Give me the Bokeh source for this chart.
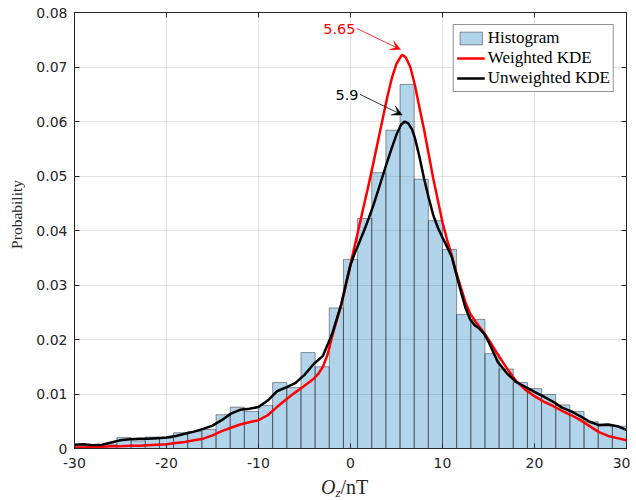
import numpy as np
from bokeh.plotting import figure
from bokeh.layouts import column, row
from bokeh.models import (LinearAxis, FixedTicker, Label, Arrow, VeeHead, Range1d, Grid, Div)
from bokeh.embed import file_html
from bokeh.resources import INLINE

# ---------------- data ----------------
x_ticks = [-30, -20, -10, 0, 10, 20, 30]
x_tick_labels = ["-30", "-20", "-10", "0", "10", "20", "30"]
y_ticks = [0, 0.01, 0.02, 0.03, 0.04, 0.05, 0.06, 0.07, 0.08]
y_tick_labels = ["0", "0.01", "0.02", "0.03", "0.04", "0.05", "0.06", "0.07", "0.08"]

hist_range = (-30, 30)
hist_bins = 39
hist_prob = [0.0007, 0.0005, 0.0008, 0.0020, 0.0014, 0.0021, 0.0019, 0.0029, 0.0031, 0.0035,
             0.0062, 0.0076, 0.0068, 0.0079, 0.0121, 0.0112, 0.0176, 0.0150, 0.0258,
             0.0347, 0.0422, 0.0506, 0.0584, 0.0668, 0.0494, 0.0418, 0.0365,
             0.0246, 0.0237, 0.0174, 0.0146, 0.0121, 0.0110, 0.0099, 0.0080, 0.0068,
             0.0049, 0.0041, 0.0041]

unw_x = [-30, -29, -28, -27, -26, -25, -24, -23, -22, -21, -20, -19, -18, -17, -16, -15,
         -14, -13, -12, -11, -10, -9, -8, -7, -6, -5, -4, -3, -2, -1,
         -0.5, 0, 0.5, 1, 1.5, 2, 2.5, 3, 3.5, 4, 4.5, 5, 5.5,
         5.9, 6.3, 6.7,
         7, 7.5, 8, 8.5, 9, 9.5, 10, 10.5, 11, 11.5, 12, 12.5, 13, 13.5, 14, 14.5,
         15, 16, 17, 18, 19, 20, 21, 22, 23, 24, 25, 26, 27, 28, 29, 30]
unw_y = [0.0007, 0.0008, 0.0006, 0.0007, 0.0011, 0.0015, 0.0017, 0.0018, 0.0018, 0.0019,
         0.0020, 0.0023, 0.0027, 0.0031, 0.0036, 0.0042, 0.0052, 0.0064, 0.0071, 0.0073,
         0.0076, 0.0088, 0.0105, 0.0112, 0.0120, 0.0135, 0.0155, 0.0170, 0.0210, 0.0265,
         0.0302, 0.0337, 0.0360, 0.0380, 0.0401, 0.0423, 0.0447, 0.0473, 0.0500, 0.0527,
         0.0552, 0.0576, 0.0594,
         0.0600, 0.0596, 0.0585,
         0.0570, 0.0535, 0.0495, 0.0460, 0.0428, 0.0405, 0.0387, 0.0370, 0.0352, 0.0320,
         0.0288, 0.0258, 0.0237, 0.0226, 0.0220, 0.0211,
         0.0196, 0.0159, 0.0138, 0.0122, 0.0113, 0.0104, 0.0095, 0.0086, 0.0075, 0.0068,
         0.0059, 0.0049, 0.0043, 0.0044, 0.0041, 0.0034]

w_x = [-30, -29, -28, -27, -26, -25, -24, -23, -22, -21, -20, -19, -18, -17, -16, -15,
       -14, -13, -12, -11, -10, -9, -8, -7, -6, -5, -4,
       -3.5, -3, -2.5, -2, -1.5, -1, -0.5, 0, 0.5, 1, 1.5, 2, 2.5, 3, 3.5, 4, 4.5, 5, 5.5,
       5.65, 6, 6.5, 7, 7.5, 8, 8.5, 9, 9.5, 10, 10.5, 11, 11.5, 12, 12.5, 13, 13.5, 14, 14.5,
       15, 16, 17, 18, 19, 20, 21, 22, 23, 24, 25, 26, 27, 28, 29, 30]
w_y = [0.0002, 0.0002, 0.0003, 0.0003, 0.0004, 0.0004, 0.0005, 0.0005, 0.0006, 0.0007,
       0.0008, 0.0010, 0.0012, 0.0015, 0.0018, 0.0024, 0.0032, 0.0038, 0.0044, 0.0048,
       0.0052, 0.0061, 0.0076, 0.0090, 0.0103, 0.0115, 0.0128,
       0.0137, 0.0150, 0.0172, 0.0205, 0.0235, 0.0263, 0.0300, 0.0338, 0.0375, 0.0412,
       0.0449, 0.0486, 0.0525, 0.0565, 0.0605, 0.0645, 0.0680, 0.0706, 0.0720,
       0.0722, 0.0718, 0.0700, 0.0667, 0.0625, 0.0585, 0.0540, 0.0495, 0.0455, 0.0415,
       0.0383, 0.0355, 0.0323, 0.0295, 0.0268, 0.0248, 0.0235, 0.0224, 0.0213,
       0.0200, 0.0173, 0.0147, 0.0124, 0.0108, 0.0096, 0.0086, 0.0078, 0.0069, 0.0061,
       0.0052, 0.0041, 0.0030, 0.0023, 0.0019, 0.0015]

# annotations: text, text anchor (right/middle), arrow tail and tip
annot_text = ["5.65", "5.9"]
annot_color = ["#FF0000", "#000000"]
annot_text_x = [0.55, 0.87]
annot_text_y = [0.0770, 0.0648]
annot_tail_x = [0.65, 1.01]
annot_tail_y = [0.0771, 0.0650]
annot_tip_x = [5.43, 5.62]
annot_tip_y = [0.0732, 0.0612]

assert len(unw_x) == len(unw_y)
assert len(w_x) == len(w_y)
assert len(hist_prob) == hist_bins

edges = np.linspace(hist_range[0], hist_range[1], hist_bins + 1)

AX = "#262626"
TICK_FONT = "DejaVu Sans"
SERIF = "Liberation Serif"
YLAB_W = 30  # width of the strip holding the y-axis title

p = figure(width=600, height=476, x_range=Range1d(-30, 30), y_range=Range1d(0, 0.08),
           output_backend="svg", toolbar_location=None,
           x_axis_location=None, y_axis_location=None,
           min_border_left=44, min_border_right=4, min_border_top=12, min_border_bottom=28)
p.background_fill_color = "white"
p.border_fill_color = None
p.outline_line_color = AX
p.outline_line_width = 1

xt = FixedTicker(ticks=x_ticks)
yt = FixedTicker(ticks=y_ticks)


def make_axis(ticker, overrides, show_labels):
    ax = LinearAxis(ticker=ticker)
    ax.axis_line_color = AX
    ax.axis_line_width = 1
    ax.major_tick_line_color = AX
    ax.major_tick_in = 5
    ax.major_tick_out = 0
    ax.minor_tick_line_color = None
    ax.major_label_overrides = overrides
    ax.major_label_text_font = TICK_FONT
    ax.major_label_text_color = AX
    if show_labels:
        ax.major_label_text_font_size = "14px"
    else:
        ax.major_label_text_font_size = "0px"
        ax.major_label_standoff = 0
    return ax


xover = {t: s for t, s in zip(x_ticks, x_tick_labels)}
yover = {t: s for t, s in zip(y_ticks, y_tick_labels)}

bx = make_axis(xt, xover, True)
bx.major_label_standoff = 9
ly = make_axis(yt, yover, True)
ly.major_label_standoff = 7
tx = make_axis(xt, {t: "" for t in x_ticks}, False)
ry = make_axis(yt, {t: "" for t in y_ticks}, False)
p.add_layout(bx, "below")
p.add_layout(ly, "left")
p.add_layout(tx, "above")
p.add_layout(ry, "right")

p.xgrid.visible = False
p.ygrid.visible = False
p.add_layout(Grid(dimension=0, ticker=xt, grid_line_color=AX, grid_line_alpha=0.13))
p.add_layout(Grid(dimension=1, ticker=yt, grid_line_color=AX, grid_line_alpha=0.13))

p.quad(left=edges[:-1], right=edges[1:], bottom=0, top=hist_prob,
       fill_color="#0072BD", fill_alpha=0.3, line_color="#000000", line_alpha=0.4,
       line_width=1, legend_label="Histogram")
p.line(w_x, w_y, line_color="#FF0000", line_width=2.5, legend_label="Weighted KDE")
p.line(unw_x, unw_y, line_color="#000000", line_width=2.5, legend_label="Unweighted KDE")

for t, c, txx, tyy, ax0, ay0, ax1, ay1 in zip(annot_text, annot_color, annot_text_x, annot_text_y,
                                               annot_tail_x, annot_tail_y, annot_tip_x, annot_tip_y):
    p.add_layout(Label(x=txx, y=tyy, text=t, text_color=c, text_font=TICK_FONT,
                       text_font_size="14.5px", text_align="right", text_baseline="middle"))
    p.add_layout(Arrow(x_start=ax0, y_start=ay0, x_end=ax1, y_end=ay1,
                       line_color=c, line_width=0.8,
                       end=VeeHead(size=10, fill_color=c, line_color=c, line_width=0.5)))

lg = p.legend[0]
lg.location = "top_right"
lg.margin = 12
lg.padding = 3
lg.spacing = 0
lg.glyph_height = 16
lg.glyph_width = 28
lg.label_height = 16
lg.label_standoff = 3
lg.label_text_font = SERIF
lg.label_text_font_size = "17px"
lg.label_text_color = "#000000"
lg.border_line_color = AX
lg.border_line_width = 1
lg.background_fill_color = "white"
lg.background_fill_alpha = 1

# ---- x-axis title as HTML text: italic O with subscript z, then /nT ----
xlabel_html = ('<div style="margin:2px 0 0 291px; padding:0; white-space:nowrap; '
               'font-family:\'Liberation Serif\', serif; font-size:20px; line-height:18px; '
               'color:#262626;"><i>O</i><sub style="font-size:13px; line-height:0; '
               'vertical-align:-3px;"><i>z</i></sub>/nT</div>')
xlabel = Div(text=xlabel_html, width=600, height=24, margin=(0, 0, 0, 0))

# ---- y-axis title, rotated ----
ylabel_html = ('<div style="position:relative; width:30px; height:500px; margin:0; padding:0;">'
               '<div style="position:absolute; left:9px; top:180px; writing-mode:vertical-rl; '
               'transform:rotate(180deg); white-space:nowrap; '
               'font-family:\'Liberation Serif\', serif; font-size:15.5px; line-height:16px; '
               'color:#262626;">Probability</div></div>')
ylabel = Div(text=ylabel_html, width=YLAB_W, height=500, margin=(0, 0, 0, 0))

layout = row(ylabel, column(p, xlabel, spacing=0), spacing=0)
open("out.html", "w").write(file_html(layout, INLINE))
